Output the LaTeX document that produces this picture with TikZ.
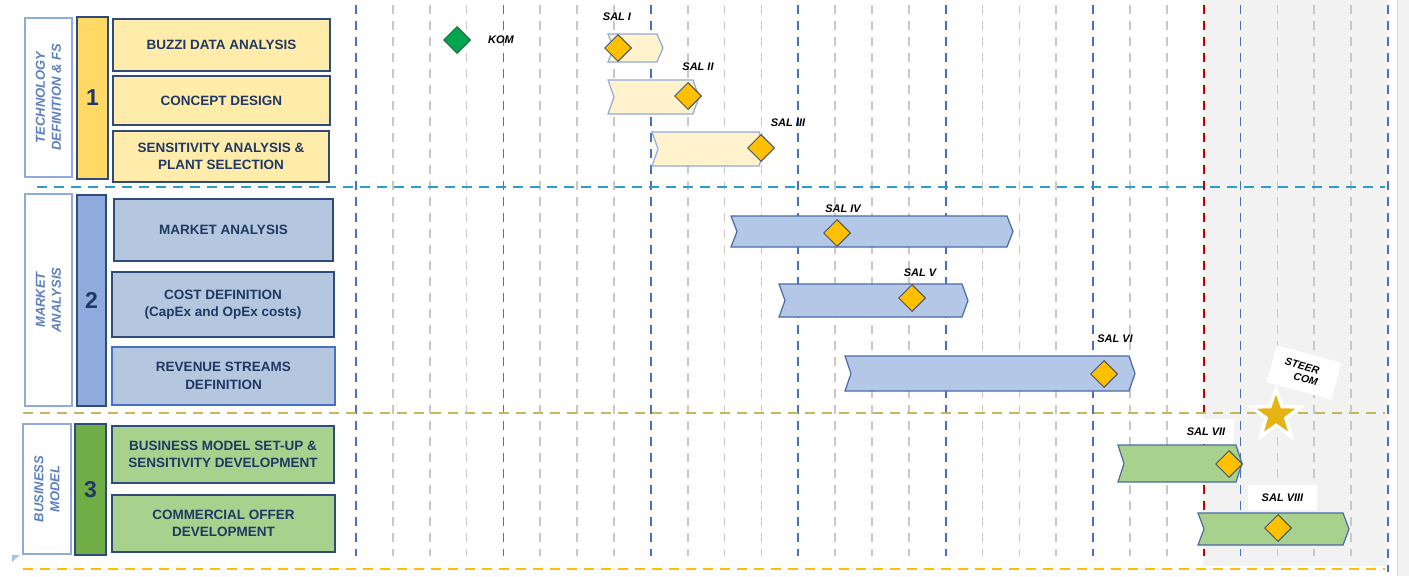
\documentclass[tikz,border=0pt]{standalone}
\usepackage{fontspec}
\setmainfont{Liberation Sans}
\usetikzlibrary{shapes.geometric}
\definecolor{navy}{HTML}{1F3864}
\definecolor{bordr}{HTML}{2F4B7C}
\definecolor{lblue}{HTML}{8FAADC}
\definecolor{grplbl}{HTML}{5B7FBF}
\definecolor{ybar}{HTML}{FFD966}
\definecolor{ytask}{HTML}{FFEBAA}
\definecolor{ychev}{HTML}{FFF2CC}
\definecolor{bbar}{HTML}{8FAADC}
\definecolor{btask}{HTML}{B4C7DE}
\definecolor{bchev}{HTML}{B4C7E7}
\definecolor{gbar}{HTML}{70AD47}
\definecolor{gtask}{HTML}{A9D18E}
\definecolor{chevbd}{HTML}{4A6BA5}
\definecolor{vblue}{HTML}{4472C4}
\definecolor{vgrey}{HTML}{C8C8C8}
\definecolor{vred}{HTML}{C00000}
\definecolor{hcyan}{HTML}{2E9CCA}
\definecolor{hgold}{HTML}{C8B560}
\definecolor{horange}{HTML}{FFC000}
\definecolor{greyzone}{HTML}{F2F2F2}
\definecolor{msfill}{HTML}{FFC000}
\definecolor{msbord}{HTML}{44546A}
\definecolor{komfill}{HTML}{00A550}
\definecolor{kombord}{HTML}{1F6B3A}
\definecolor{starc}{HTML}{E5B412}
\definecolor{tric}{HTML}{A9C4E0}
\newcommand\chevbar[5]{%
  \draw[#5] (#1,#3) -- ({#2-6},#3) -- (#2,{(#3+#4)/2}) -- ({#2-6},#4) -- (#1,#4) -- ({#1+6},{(#3+#4)/2}) -- cycle;}
\begin{document}
\begin{tikzpicture}[x=1pt,y=-1pt,
  vline/.style={line width=1.8pt, dash pattern=on 9pt off 7pt},
  hline/.style={line width=1.8pt, dash pattern=on 10pt off 7pt},
  taskbox/.style={draw=bordr, line width=1.5pt, align=center, inner sep=0pt, text=navy,
    font=\bfseries\fontsize{13.5}{17.5}\selectfont},
  grpbox/.style={draw=lblue, line width=1.2pt, fill=white, inner sep=0pt},
  grptext/.style={rotate=90, align=center, text=grplbl, font=\bfseries\itshape\fontsize{13}{16}\selectfont},
  numbar/.style={draw=bordr, line width=2pt, inner sep=0pt, text=navy, font=\bfseries\fontsize{23}{26}\selectfont},
  ms/.style={diamond, draw=msbord, fill=msfill, line width=1pt, minimum width=27, minimum height=27, inner sep=0pt},
  sal/.style={font=\bfseries\itshape\fontsize{11}{13}\selectfont, inner sep=0pt},
  steertext/.style={rotate=-15, inner sep=0pt, font=\bfseries\itshape\fontsize{10.5}{12}\selectfont},
  chevy/.style={draw=lblue, fill=ychev, line width=1.2pt},
  chevb/.style={draw=chevbd, fill=bchev, line width=1.2pt},
  chevg/.style={draw=chevbd, fill=gtask, line width=1.2pt}]
\useasboundingbox (0,0) rectangle (1409,576);
\fill[white] (0,0) rectangle (1409,576);
% shaded region
\fill[greyzone] (1203,0) rectangle (1388,566);
\fill[greyzone] (1397,0) rectangle (1409,576);
\draw[vgrey!70, line width=1pt] (1397,0) -- (1397,576);
% vertical grid lines
\foreach \k in {0,...,27}{
  \pgfmathsetmacro\xx{356+36.857*\k}
  \pgfmathtruncatemacro\m{mod(\k,4)}
  \ifnum\k=23
    \draw[vline, vred] (\xx,5) -- (\xx,556);
  \else\ifnum\m=0
    \draw[vline, vblue] (\xx,5) -- (\xx,556);
  \else
    \draw[vline, vgrey] (\xx,5) -- (\xx,556);
  \fi\fi
}
\draw[vline, vblue] (1388,5) -- (1388,572);
% horizontal group separators
\draw[hline, hcyan] (37,187) -- (1385,187);
\draw[hline, hgold] (23,413) -- (1385,413);
\draw[hline, horange] (23,569) -- (1385,569);
% group 1
\node[grpbox, minimum width=47, minimum height=159] (g1) at (48.5,97.5) {};
\node[grptext] (g1t) at (g1.center) {TECHNOLOGY\\DEFINITION \& FS};
\node[numbar, fill=ybar, minimum width=31, minimum height=162] (n1) at (92.5,98) {1};
\node[taskbox, fill=ytask, minimum width=217, minimum height=52] (t1) at (221.5,45) {BUZZI DATA ANALYSIS};
\node[taskbox, fill=ytask, minimum width=217, minimum height=49] (t2) at (221.5,100.5) {CONCEPT DESIGN};
\node[taskbox, fill=ytask, minimum width=216, minimum height=51] (t3) at (221,156.5) {SENSITIVITY ANALYSIS \&\\PLANT SELECTION};
% group 2
\node[grpbox, minimum width=47, minimum height=212] (g2) at (48.5,300) {};
\node[grptext] (g2t) at (g2.center) {MARKET\\ANALYSIS};
\node[numbar, fill=bbar, minimum width=29, minimum height=211] (n2) at (91.5,300.5) {2};
\node[taskbox, fill=btask, minimum width=219, minimum height=62] (t4) at (223.5,230) {MARKET ANALYSIS};
\node[taskbox, fill=btask, minimum width=222, minimum height=65] (t5) at (223,304.5) {COST DEFINITION\\(CapEx and OpEx costs)};
\node[taskbox, fill=btask, draw=vblue, minimum width=223, minimum height=58] (t6) at (223.5,376) {REVENUE STREAMS\\DEFINITION};
% group 3
\node[grpbox, minimum width=48, minimum height=130] (g3) at (47,489) {};
\node[grptext] (g3t) at (g3.center) {BUSINESS\\MODEL};
\node[numbar, fill=gbar, minimum width=31, minimum height=131] (n3) at (90.5,489.5) {3};
\node[taskbox, fill=gtask, minimum width=222, minimum height=57] (t7) at (223,454.5) {BUSINESS MODEL SET-UP \&\\SENSITIVITY DEVELOPMENT};
\node[taskbox, fill=gtask, minimum width=223, minimum height=57] (t8) at (223.5,523.5) {COMMERCIAL OFFER\\DEVELOPMENT};
% small corner triangle
\fill[tric] (12,555) -- (20,555) -- (12,562) -- cycle;
% chevron bars
\chevbar{608}{663}{34}{62}{chevy}
\chevbar{608}{699}{80}{114}{chevy}
\chevbar{652}{765}{132}{166}{chevy}
\chevbar{731}{1013}{216}{247}{chevb}
\chevbar{779}{968}{284}{317}{chevb}
\chevbar{845}{1135}{356}{391}{chevb}
\chevbar{1118}{1242}{445}{482}{chevg}
\chevbar{1198}{1349}{513}{545}{chevg}
% label backgrounds / steering committee
\node[sal, fill=white, minimum width=55, minimum height=25] (l7) at (1206,431.5) {SAL VII};
\node[sal, fill=white, minimum width=69, minimum height=25] (l8) at (1282.5,497.5) {SAL VIII};
\node[fill=white, rotate=-15, minimum width=67, minimum height=38, inner sep=0pt] (steer) at (1304,372.5) {};
\node[steertext] (steer1) at (1302.3,366) {STEER};
\node[steertext] (steer2) at (1305.7,379) {COM};
\node[star, star points=5, star point ratio=2.5, fill=starc, draw=white, line width=3.5pt,
  minimum size=52, inner sep=0pt] (star) at (1276,415) {};
% milestones
\node[ms, fill=komfill, draw=kombord] (kom) at (457,40) {};
\node[sal] (lkom) at (501,40) {KOM};
\node[ms] (m1) at (618,48) {};
\node[sal] (l1) at (617,17) {SAL I};
\node[ms] (m2) at (688,96) {};
\node[sal] (l2) at (698,67) {SAL II};
\node[ms] (m3) at (761,148) {};
\node[sal] (l3) at (788,123) {SAL III};
\node[ms] (m4) at (837,233) {};
\node[sal] (l4) at (843,209) {SAL IV};
\node[ms] (m5) at (912,298) {};
\node[sal] (l5) at (920,273) {SAL V};
\node[ms] (m6) at (1104,374) {};
\node[sal] (l6) at (1115,339) {SAL VI};
\node[ms] (m7) at (1229,464) {};
\node[ms] (m8) at (1278,528) {};
\end{tikzpicture}
\end{document}
